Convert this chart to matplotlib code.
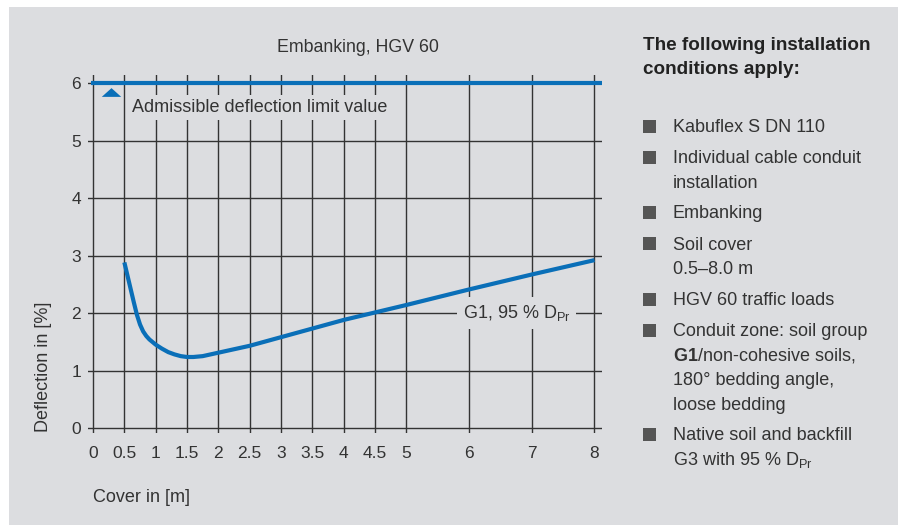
import matplotlib.pyplot as plt
from matplotlib.patches import Rectangle

# curve: cover [m] vs deflection [%]
cover = [0.5, 0.55, 0.6, 0.65, 0.7, 0.75, 0.8, 0.85, 0.9, 1.0, 1.1, 1.2, 1.3, 1.4, 1.5, 1.6, 1.75, 2.0, 2.5,
         3.0, 3.5, 4.0, 4.5, 5.0, 6.0, 7.0, 8.0]
deflection = [2.88, 2.65, 2.42, 2.19, 1.97, 1.8, 1.68, 1.6, 1.54, 1.45, 1.38, 1.32, 1.28, 1.25, 1.235, 1.235,
              1.25, 1.31, 1.43, 1.58, 1.73, 1.88, 2.01, 2.14, 2.41, 2.67, 2.92]
limit_value = 6.0

x_ticks = [0, 0.5, 1, 1.5, 2, 2.5, 3, 3.5, 4, 4.5, 5, 6, 7, 8]
x_tick_labels = ["0", "0.5", "1", "1.5", "2", "2.5", "3", "3.5", "4", "4.5", "5", "6", "7", "8"]
y_ticks = [0, 1, 2, 3, 4, 5, 6]

bullets = [
    ["Kabuflex S DN 110"],
    ["Individual cable conduit", "installation"],
    ["Embanking"],
    ["Soil cover", "0.5–8.0 m"],
    ["HGV 60 traffic loads"],
    ["Conduit zone: soil group", r"$\mathbf{G1}$/non-cohesive soils,", "180° bedding angle,", "loose bedding"],
    ["Native soil and backfill", r"G3 with 95 % D$_{\mathregular{Pr}}$"],
]

plt.rcParams['font.family'] = ['Liberation Sans', 'DejaVu Sans']
plt.rcParams['mathtext.fontset'] = 'custom'
plt.rcParams['mathtext.rm'] = 'Liberation Sans'
plt.rcParams['mathtext.bf'] = 'Liberation Sans:bold'

bg = '#dcdde0'
txt = '#333333'
blue = '#0a6fb8'
W, H = 898, 525

fig = plt.figure(figsize=(8.98, 5.25), dpi=100)
fig.patch.set_facecolor('white')
fig.add_artist(Rectangle((9 / W, 0), 1 - 9 / W, 1 - 7 / H, transform=fig.transFigure,
                         facecolor=bg, edgecolor='none', zorder=0))

# axes in pixel coordinates: x from 88 to 602, y from 75 to 433
ax = fig.add_axes([88 / W, 1 - 433 / H, (602 - 88) / W, (433 - 75) / H])
ax.set_facecolor('none')
ax.set_xlim(-0.08, 8.12)
ax.set_ylim(-0.087, 6.14)
for s in ax.spines.values():
    s.set_visible(False)
ax.set_xticks(x_ticks)
ax.set_xticklabels(x_tick_labels)
ax.set_yticks(y_ticks)
ax.tick_params(length=0, labelsize=12.5, colors=txt)
ax.tick_params(axis='x', pad=9)
ax.tick_params(axis='y', pad=5)
for x in x_ticks:
    ax.axvline(x, color='#333333', lw=1.0, zorder=1)
for y in y_ticks:
    ax.axhline(y, color='#333333', lw=1.0, zorder=1)

ax.plot([-0.03, 8.12], [limit_value, limit_value], color=blue, lw=3, solid_capstyle='butt', zorder=4)
ax.plot(cover, deflection, color=blue, lw=3, solid_capstyle='butt', solid_joinstyle='round', zorder=4)
tri = [(-1, -0.45), (1, -0.45), (0, 0.45)]
ax.plot([0.29], [5.84], marker=tri, color=blue, markersize=14, markeredgewidth=0, zorder=4)

ax.text(0.62, 5.58, "Admissible deflection limit value", fontsize=13, color=txt, va='center', ha='left',
        bbox=dict(facecolor=bg, edgecolor='none', pad=3), zorder=3)
ax.text(5.9, 2.0, r"G1, 95 % D$_{\mathregular{Pr}}$", fontsize=13, color=txt, va='center', ha='left',
        bbox=dict(facecolor=bg, edgecolor='none', pad=4), zorder=3)

fig.text(358 / W, 1 - 48 / H, "Embanking, HGV 60", fontsize=12.8, color=txt, ha='center', va='center')
fig.text(43 / W, 1 - 367 / H, "Deflection in [%]", fontsize=13, color=txt, ha='center', va='center', rotation=90)
fig.text(93 / W, 1 - 497 / H, "Cover in [m]", fontsize=13, color=txt, ha='left', va='center')

# right panel
fig.text(643 / W, 1 - 45 / H, "The following installation", fontsize=13.6, fontweight='bold', color='#222222', va='center')
fig.text(643 / W, 1 - 69 / H, "conditions apply:", fontsize=13.6, fontweight='bold', color='#222222', va='center')

y = 126
for lines in bullets:
    fig.add_artist(Rectangle((643 / W, 1 - (y + 6.5) / H), 13 / W, 13 / H, transform=fig.transFigure,
                             facecolor='#555555', edgecolor='none'))
    for line in lines:
        fig.text(673 / W, 1 - (y + 6) / H, line, fontsize=13, color=txt, va='baseline')
        y += 24.5
    y += 6.5

fig.savefig('out.png', dpi=100, facecolor=fig.get_facecolor())
